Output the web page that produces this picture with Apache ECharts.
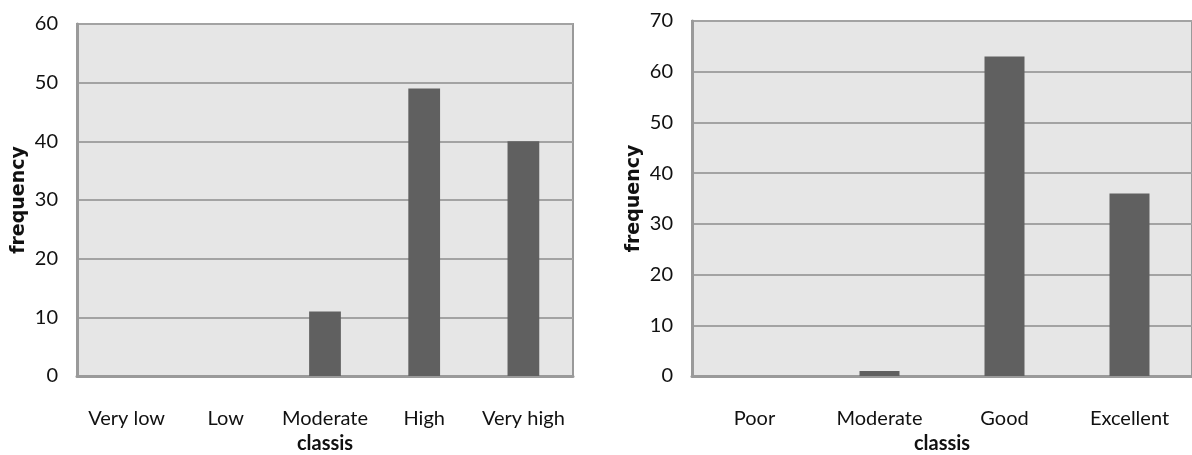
<!DOCTYPE html>
<html>
<head>
<meta charset="utf-8">
<style>
  html, body { margin: 0; padding: 0; background: #ffffff; }
  #chart { width: 1192px; height: 455px; }
</style>
<script src="https://cdn.jsdelivr.net/npm/echarts@6/dist/echarts.min.js"></script>
</head>
<body>
<div id="chart"></div>
<script>
// Frequency by class, two panels
const leftCategories = ['Very low', 'Low', 'Moderate', 'High', 'Very high'];
const leftValues = [0, 0, 11, 49, 40];
const leftTicks = { min: 0, max: 60, interval: 10 };

const rightCategories = ['Poor', 'Moderate', 'Good', 'Excellent'];
const rightValues = [0, 1, 63, 36];
const rightTicks = { min: 0, max: 70, interval: 10 };

const labelFont = 'Lato, "Liberation Sans Narrow", sans-serif';
const titleFont = '"DejaVu Sans", Verdana, sans-serif';
const axisGray = '#9a9a9a';

function xAxisFor(gridIndex, cats) {
  return {
    type: 'category',
    gridIndex: gridIndex,
    data: cats,
    name: 'classis',
    nameLocation: 'middle',
    nameGap: 58,
    nameTextStyle: { fontFamily: labelFont, fontWeight: 'bold', fontSize: 20, color: '#111' },
    axisLine: { lineStyle: { color: axisGray, width: 3 } },
    axisTick: { show: false },
    axisLabel: { interval: 0, margin: 33, fontFamily: labelFont, fontSize: 20, color: '#111' },
    splitLine: { show: false }
  };
}

function yAxisFor(gridIndex, ticks) {
  return {
    type: 'value',
    gridIndex: gridIndex,
    min: ticks.min,
    max: ticks.max,
    interval: ticks.interval,
    name: 'frequency',
    nameLocation: 'middle',
    nameGap: 48,
    nameTextStyle: { fontFamily: titleFont, fontWeight: 'bold', fontSize: 19, color: '#111' },
    axisLine: { show: true, lineStyle: { color: axisGray, width: 3 } },
    axisTick: { show: false },
    axisLabel: { margin: 19, fontFamily: labelFont, fontSize: 20, color: '#111' },
    splitLine: { lineStyle: { color: '#a3a3a3', width: 2 } }
  };
}

function barSeries(idx, values) {
  return {
    type: 'bar',
    xAxisIndex: idx,
    yAxisIndex: idx,
    data: values,
    barWidth: '32%',
    itemStyle: { color: '#606060' },
    silent: true
  };
}

const chart = echarts.init(document.getElementById('chart'));
chart.setOption({
  animation: false,
  backgroundColor: '#ffffff',
  grid: [
    { left: 77, top: 24, width: 496, height: 352, show: true, outerBoundsMode: 'none',
      backgroundColor: '#e6e6e6', borderColor: axisGray, borderWidth: 2 },
    { left: 692, top: 21, width: 500, height: 355, show: true, outerBoundsMode: 'none',
      backgroundColor: '#e6e6e6', borderColor: axisGray, borderWidth: 2 }
  ],
  xAxis: [xAxisFor(0, leftCategories), xAxisFor(1, rightCategories)],
  yAxis: [yAxisFor(0, leftTicks), yAxisFor(1, rightTicks)],
  series: [barSeries(0, leftValues), barSeries(1, rightValues)]
});
</script>
</body>
</html>
